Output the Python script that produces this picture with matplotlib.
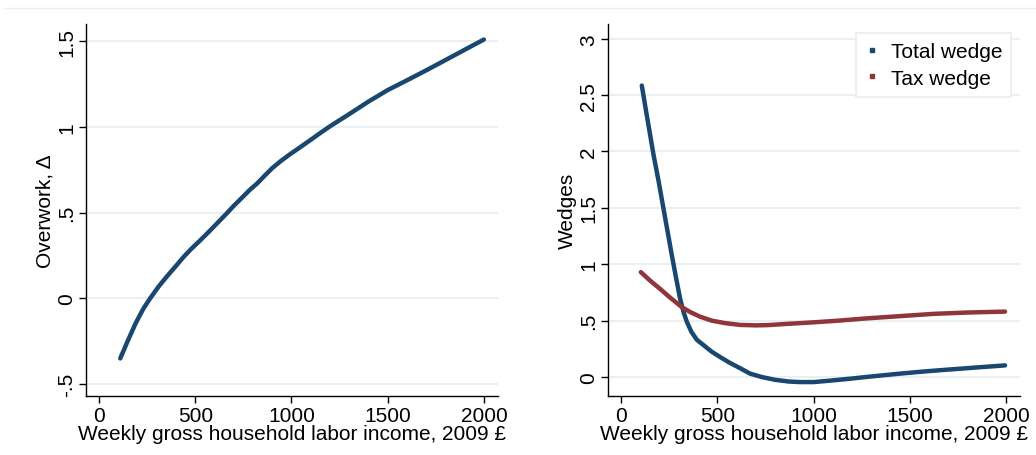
import numpy as np
import matplotlib
matplotlib.use('Agg')
import matplotlib.pyplot as plt
from matplotlib.lines import Line2D

plt.rcParams['font.family'] = ['Liberation Sans', 'DejaVu Sans']

# ===== DATA =====
income_over = [110, 150, 190, 230, 265, 310, 350, 400, 440, 480, 525, 570, 615,
               660, 700, 745, 785, 821, 860, 900, 943, 985, 1030, 1100, 1150,
               1203, 1300, 1400, 1500, 1600, 1700, 1800, 1900, 2000]
overwork = [-0.35, -0.245, -0.145, -0.06, 0.0, 0.07, 0.125, 0.19, 0.243, 0.29,
            0.338, 0.388, 0.44, 0.492, 0.54, 0.59, 0.635, 0.67, 0.715, 0.76,
            0.80, 0.835, 0.87, 0.925, 0.965, 1.006, 1.075, 1.148, 1.215, 1.272,
            1.33, 1.39, 1.45, 1.51]

income_total = [107, 130, 168, 195, 220, 240, 263, 285, 306, 325, 341, 365, 393,
                430, 470, 514, 560, 610, 670, 730, 800, 870, 930, 1000, 1100,
                1190, 1300, 1449, 1580, 1709, 1850, 1995]
total_wedge = [2.585, 2.35, 1.97, 1.73, 1.49, 1.30, 1.08, 0.88, 0.695, 0.57,
               0.49, 0.40, 0.33, 0.28, 0.225, 0.177, 0.13, 0.085, 0.03, 0.0,
               -0.025, -0.04, -0.045, -0.045, -0.03, -0.015, 0.005, 0.03, 0.05,
               0.067, 0.085, 0.103]
income_tax = [102, 150, 203, 250, 315, 360, 410, 470, 540, 618, 700, 760, 850,
              1000, 1130, 1276, 1450, 1623, 1800, 1995]
tax_wedge = [0.93, 0.855, 0.78, 0.71, 0.62, 0.575, 0.535, 0.50, 0.478, 0.462,
             0.458, 0.46, 0.47, 0.485, 0.50, 0.52, 0.54, 0.56, 0.572, 0.58]

x_ticks = [0, 500, 1000, 1500, 2000]
y1_ticks = [-0.5, 0, 0.5, 1, 1.5]
y1_labels = ['-.5', '0', '.5', '1', '1.5']
y2_ticks = [0, 0.5, 1, 1.5, 2, 2.5, 3]
y2_labels = ['0', '.5', '1', '1.5', '2', '2.5', '3']

BLUE = '#1a476f'
RED = '#90353b'
GRID = '#e6eef0'
XLABEL = 'Weekly gross household labor income, 2009 £'
FS = 15

fig = plt.figure(figsize=(10.36, 4.56), dpi=100)
fig.add_artist(Line2D([0.005, 1.0], [0.98, 0.98], color=GRID, lw=1))

ax1 = fig.add_axes([0.083, 0.129, 0.398, 0.816])
ax2 = fig.add_axes([0.587, 0.129, 0.398, 0.816])


def style(ax, yticks, ylabels, ylim, ylabel):
    ax.set_xlim(-68, 2075)
    ax.set_ylim(*ylim)
    ax.set_xticks(x_ticks)
    ax.set_xticklabels([str(t) for t in x_ticks])
    ax.set_yticks(yticks)
    ax.set_yticklabels(ylabels, rotation=90, va='center')
    ax.grid(axis='y', color=GRID, lw=1.2)
    ax.set_axisbelow(True)
    for s in ['top', 'right']:
        ax.spines[s].set_visible(False)
    for s in ['left', 'bottom']:
        ax.spines[s].set_linewidth(1.0)
    ax.tick_params(direction='out', length=5, width=1, labelsize=FS, pad=2)
    ax.set_xlabel(XLABEL, fontsize=FS, labelpad=-1)
    ax.set_ylabel(ylabel, fontsize=FS, labelpad=2)


ax1.plot(income_over, overwork, color=BLUE, lw=3.2, solid_capstyle='round',
         solid_joinstyle='round')
style(ax1, y1_ticks, y1_labels, (-0.57, 1.6), 'Overwork, Δ')

ax2.plot(income_total, total_wedge, color=BLUE, lw=3.2, solid_capstyle='round',
         solid_joinstyle='round')
ax2.plot(income_tax, tax_wedge, color=RED, lw=3.2, solid_capstyle='round',
         solid_joinstyle='round')
style(ax2, y2_ticks, y2_labels, (-0.17, 3.13), 'Wedges')

handles = [Line2D([], [], ls='none', marker='s', ms=2.5, color=BLUE),
           Line2D([], [], ls='none', marker='s', ms=2.5, color=RED)]
leg = ax2.legend(handles, ['Total wedge', 'Tax wedge'], loc='upper right',
                 bbox_to_anchor=(0.978, 0.976), borderaxespad=0, fontsize=FS,
                 frameon=True, fancybox=False, edgecolor=GRID, framealpha=1,
                 handlelength=0.6, handletextpad=0.6, borderpad=0.45,
                 labelspacing=0.35)
leg.get_frame().set_linewidth(1.2)

fig.savefig('out.png', dpi=100)
